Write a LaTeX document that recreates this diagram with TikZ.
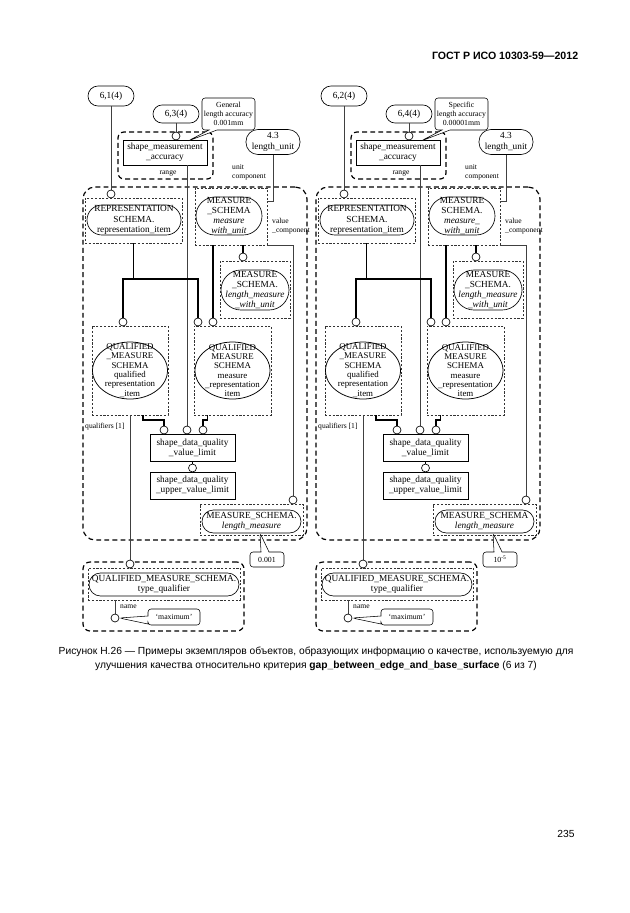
\documentclass[tikz,border=0pt]{standalone}
\usepackage{fontspec}
\setmainfont{Liberation Serif}
\newfontfamily\capfont{Liberation Sans}
\usetikzlibrary{shapes.geometric,shapes.callouts,calc}
\newlength\pu
\setlength\pu{0.0325cm}

% one half of the figure, #2 is its horizontal offset
\newcommand\panel[9]{%
  \node[pill=10,minimum width=46\pu,minimum height=20\pu] (up#1) at (111+#2,96) {#3};
  \node[pill=9,minimum width=46\pu,minimum height=18\pu] (lo#1) at (176+#2,114) {#4};
  \node[grp=6,minimum width=95\pu,minimum height=47\pu] (accg#1) at (165.5+#2,155.5) {};
  \node[ent,minimum width=84\pu,minimum height=25\pu] (acc#1) at (165+#2,152.5) {shape\_measurement\\\_accuracy};
  \node[lbl] (rng#1) at (168+#2,173) {range};
  \coordinate (pa#1) at (188+#2,141);
  \node[note,minimum width=53\pu,minimum height=32\pu,callout absolute pointer={(pa#1)}] (accn#1) at (228.5+#2,114) {#5};
  \node[pill=12,minimum width=54\pu,minimum height=25\pu] (len#1) at (273+#2,142) {4.3\\length\_unit};
  \node[lbl,anchor=west,align=left] (uc#1) at (232+#2,172) {unit\\component};
  % outer group
  \node[grp=12,minimum width=224\pu,minimum height=353\pu] (main#1) at (195+#2,363.5) {};
  \node[dbox,minimum width=97\pu,minimum height=45\pu] (repb#1) at (133.5+#2,220.5) {};
  \node[pill=15,minimum width=94\pu,minimum height=30\pu] (rep#1) at (134+#2,220) {REPRESENTATION\\SCHEMA.\\representation\_item};
  \node[dbox,minimum width=72\pu,minimum height=57\pu] (mwub#1) at (231+#2,216.5) {};
  \node[pill=19,minimum width=66\pu,minimum height=38\pu] (mwu#1) at (229+#2,216) {MEASURE\\#7\\#8};
  \node[lbl,anchor=west,align=left] (vc#1) at (272+#2,226) {value\\\_component};
  \node[dbox,minimum width=70\pu,minimum height=57\pu] (lmwub#1) at (255+#2,289.5) {};
  \node[pill=20,minimum width=68\pu,minimum height=40\pu] (lmwu#1) at (255+#2,290) {MEASURE\\\_SCHEMA.\\\textit{length\_measure}\\\textit{\_with\_unit}};
  \node[dbox,qtext,minimum width=76\pu,minimum height=89\pu] (qrib#1) at (130+#2,370.5) {QUALIFIED\\\_MEASURE\\SCHEMA\\qualified\\representation\\\_item};
  \node[ell] (qri#1) at (qrib#1) {};
  \node[dbox,qtext,minimum width=77\pu,minimum height=89\pu] (mrib#1) at (232.5+#2,370.5) {QUALIFIED\\MEASURE\\SCHEMA\\measure\\\_representation\\item};
  \node[ell] (mri#1) at (mrib#1) {};
  \node[lbl,anchor=west] (qf#1) at (85+#2,427) {qualifiers [1]};
  \node[ent] (vl#1) at (192.5+#2,447.5) {shape\_data\_quality\\\_value\_limit};
  \node[ent] (uvl#1) at (192.5+#2,485.5) {shape\_data\_quality\\\_upper\_value\_limit};
  \node[dbox,minimum width=103\pu,minimum height=31\pu] (lmb#1) at (251.5+#2,519.5) {};
  \node[pill=11.5,minimum width=99\pu,minimum height=23\pu] (lm#1) at (251.5+#2,521.5) {#9\\\textit{length\_measure}};
  \coordinate (pv#1) at (260+#2,533);
  \node[note,minimum width=34\pu,minimum height=15\pu,callout absolute pointer={(pv#1)}] (val#1) at (267+#2,559.5) {#6};
  % type qualifier group
  \node[grp=7,minimum width=161\pu,minimum height=69\pu] (tqg#1) at (163.5+#2,596.5) {};
  \node[dbox,minimum width=152\pu,minimum height=32\pu] (tqb#1) at (164+#2,584) {};
  \node[pill=11.5,minimum width=150\pu,minimum height=23\pu] (tq#1) at (164+#2,584.5) {QUALIFIED\_MEASURE\_SCHEMA.\\type\_qualifier};
  \node[lbl,anchor=west] (nm#1) at (120+#2,607) {name};
  % connectors
  \coordinate (jn#1) at (133.5+#2,279);
  \draw[wire] (up#1) -- (111+#2,190);
  \draw[wire] (lo#1) -- (176+#2,132);
  \draw[wire] (acc#1.south -| 187+#2,0) -- (187+#2,426);
  \draw[wire] (len#1) |- ($(mwub#1.north east)+(0,14)$);
  \draw[wire] (mwub#1.south east) -| (293+#2,496);
  \draw[thk] (repb#1.south) -- (jn#1);
  \draw[thk] (123+#2,318) |- (jn#1) -| (198+#2,318);
  \draw[thk] (mwub#1.south -| 213+#2,0) -- (213+#2,318);
  \draw[thk] (mwub#1.south -| 243+#2,0) -- (243+#2,253);
  \draw[wire] (qrib#1) -- (130+#2,560);
  \draw[thk] ($(qrib#1.south)+(13,0)$) -- ++(0,5) -| (164+#2,426);
  \draw[thk] ($(mrib#1.south)+(-25,0)$) -- ++(0,5) -| (203+#2,426);
  \draw[thk] (vl#1) -- (uvl#1);
  \draw[wire] (tqb#1.south -| 115+#2,0) -- (115+#2,614);
  % rings
  \node[ring] (oRep#1) at (111+#2,194) {};
  \node[ring] (oAcc#1) at (176+#2,136) {};
  \node[ring] (oLmwu#1) at (243+#2,257) {};
  \node[ring] (oQa#1) at (123+#2,322) {};
  \node[ring] (oQb#1) at (198+#2,322) {};
  \node[ring] (oQc#1) at (213+#2,322) {};
  \node[ring] (oVa#1) at (164+#2,430) {};
  \node[ring] (oVb#1) at (187+#2,430) {};
  \node[ring] (oVc#1) at (203+#2,430) {};
  \node[ring] (oUp#1) at (192.5+#2,468) {};
  \node[ring] (oLm#1) at (293+#2,500) {};
  \node[ring] (oTq#1) at (130+#2,564) {};
  \node[ring] (oNm#1) at (115+#2,618) {};
  \node[note,minimum width=52\pu,minimum height=16\pu,callout absolute pointer={(oNm#1.east)}] (mx#1) at (174+#2,617) {`maximum'};
}

\begin{document}
\begin{tikzpicture}[x=\pu,y=-\pu,
    every node/.style={font=\fontsize{8.6}{9.4}\selectfont},
    pill/.style={draw,line width=0.6pt,rounded corners=#1\pu,align=center,inner sep=0pt},
    grp/.style={draw,line width=1.1pt,dash pattern=on 4.5pt off 3pt,rounded corners=#1\pu,inner sep=0pt},
    dbox/.style={draw,line width=0.5pt,black!80,dash pattern=on 2pt off 1.5pt,inner sep=0pt},
    ent/.style={draw,line width=0.7pt,align=center,inner sep=0pt,minimum width=85\pu,minimum height=27\pu},
    ell/.style={ellipse,draw,line width=0.7pt,inner sep=0pt,minimum width=75\pu,minimum height=57\pu},
    qtext/.style={text=black,align=center,font=\fontsize{8.2}{8.6}\selectfont},
    note/.style={rectangle callout,draw,fill=white,line width=0.5pt,rounded corners=3\pu,align=center,
                 inner sep=1pt,callout pointer width=8\pu,font=\fontsize{7.2}{8.2}\selectfont},
    lbl/.style={inner sep=0pt,font=\fontsize{7}{8}\selectfont},
    ring/.style={circle,draw,fill=white,line width=0.6pt,inner sep=0pt,minimum size=8\pu},
    wire/.style={line width=0.5pt,black!75},
    thk/.style={line width=1.8pt}]
  \useasboundingbox (0,0) rectangle (630,913);
  \fill[white] (0,0) rectangle (630,913);
  \node[anchor=east,font=\capfont\bfseries\fontsize{9.8}{12}\selectfont] (hdr) at (582,56) {ГОСТ Р ИСО 10303-59—2012};

  \panel{a}{0}{6,1(4)}{6,3(4)}{General\\length accuracy\\0.001mm}{0.001}{\_SCHEMA}{\textit{measure}\\\textit{with\_unit}}{MEASURE\_SCHEMA.}
  \panel{b}{233}{6,2(4)}{6,4(4)}{Specific\\length accuracy\\0.00001mm}{10\textsuperscript{-5}}{SCHEMA.}{\textit{measure\_}\\\textit{with\_unit}}{MEASURE\_SCHEMA}

  \node[align=center,font=\capfont\fontsize{9.5}{12.9}\selectfont] (cap) at (316,659)
    {Рисунок Н.26 — Примеры экземпляров объектов, образующих информацию о качестве, используемую для\\
     улучшения качества относительно критерия \textbf{gap\_between\_edge\_and\_base\_surface} (6 из 7)};
  \node[font=\capfont\fontsize{9.5}{12}\selectfont] (pg) at (566,834) {235};
\end{tikzpicture}
\end{document}
